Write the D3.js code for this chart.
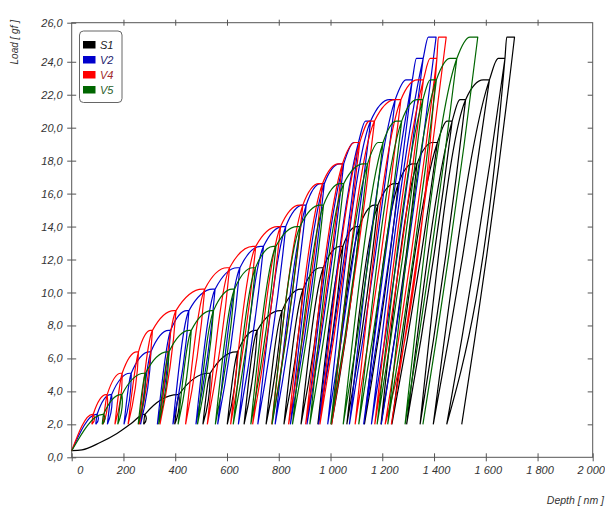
<!DOCTYPE html>
<html>
<head>
<meta charset="utf-8">
<script src="https://cdn.jsdelivr.net/npm/d3@7"></script>
<style>
  body { margin: 0; background: #fff; }
  svg text { font-family: "Liberation Sans", Arial, sans-serif; font-style: italic; }
</style>
</head>
<body>
<svg id="chart" width="605" height="507"></svg>
<script>
// load schedule [gf], same for every specimen; each cycle unloads to 2 gf
var peakLoads = [2.6, 3.8, 5.1, 6.4, 7.7, 8.9, 10.2, 11.5, 12.8, 14.0, 15.3, 16.6, 17.8, 19.1, 20.4, 21.7, 22.9, 24.2, 25.5];
var holdCreep = [3, 4, 5, 6, 7, 8, 9, 10, 11, 12, 13, 14, 16, 18, 20, 22, 24, 26, 30];
var unloadLoad = 2.0;

// depth [nm] where each peak is reached, and where each unload ends
var s1Peak = [280, 410, 530, 635, 710, 805, 885, 962, 1037, 1100, 1170, 1248, 1318, 1395, 1450, 1500, 1590, 1648, 1681];
var s1End  = [278, 398, 507, 601, 666, 751, 820, 886, 951, 1004, 1063, 1131, 1195, 1237, 1294, 1346, 1397, 1449, 1507];
var v2Peak = [95, 150, 225, 300, 375, 445, 545, 640, 730, 815, 893, 962, 1035, 1090, 1135, 1228, 1292, 1332, 1378];
var v2End  = [93, 138, 202, 266, 331, 391, 480, 564, 644, 719, 786, 845, 909, 954, 989, 1073, 1128, 1158, 1196];
var v4Peak = [80, 133, 190, 252, 305, 395, 505, 600, 700, 795, 880, 955, 1030, 1095, 1150, 1250, 1335, 1385, 1417];
var v4End  = [78, 121, 167, 218, 261, 341, 440, 524, 614, 699, 773, 838, 904, 959, 1004, 1095, 1171, 1211, 1235];
var v5Peak = [120, 190, 280, 370, 455, 540, 620, 700, 778, 870, 960, 1037, 1127, 1185, 1255, 1335, 1385, 1462, 1539];
var v5End  = [118, 178, 257, 336, 411, 486, 555, 624, 692, 774, 853, 920, 1001, 1049, 1109, 1180, 1221, 1288, 1357];

// first loading branch before the first peak
var s1InitDepth = [0, 40, 110, 175, 230];
var s1InitLoad  = [0.4, 0.45, 0.9, 1.45, 2.05];
var vInitDepth = [0];
var vInitLoad  = [0.4];

var seriesNames = ["S1", "V2", "V4", "V5"];
var seriesColors = ["#000000", "#0000cc", "#ff0000", "#006600"];
var labelColors = ["#222222", "#22226e", "#a02828", "#2a5e2a"];

var xTicks = [0, 200, 400, 600, 800, 1000, 1200, 1400, 1600, 1800, 2013];
var yTicks = [0, 2, 4, 6, 8, 10, 12, 14, 16, 18, 20, 22, 24, 26.37];

var series = [
  { name: seriesNames[0], color: seriesColors[0], peak: s1Peak, end: s1End, initD: s1InitDepth, initL: s1InitLoad },
  { name: seriesNames[1], color: seriesColors[1], peak: v2Peak, end: v2End, initD: vInitDepth, initL: vInitLoad },
  { name: seriesNames[2], color: seriesColors[2], peak: v4Peak, end: v4End, initD: vInitDepth, initL: vInitLoad },
  { name: seriesNames[3], color: seriesColors[3], peak: v5Peak, end: v5End, initD: vInitDepth, initL: vInitLoad }
];

var svg = d3.select("#chart");
var plotLeft = 71.7, plotRight = 592.7, plotTop = 22.7, plotBottom = 457.3;

var x = d3.scaleLinear().domain([0, 2013]).range([plotLeft, plotRight]);
var y = d3.scaleLinear().domain([0, 26.37]).range([plotBottom, plotTop]);

var axisColor = "#555";
var labelColor = "#333";

var fmtX = d3.formatLocale({ decimal: ",", thousands: " ", grouping: [3], currency: ["", ""] }).format(",d");

// frame
svg.append("rect")
  .attr("x", plotLeft).attr("y", plotTop)
  .attr("width", plotRight - plotLeft).attr("height", plotBottom - plotTop)
  .attr("fill", "none").attr("stroke", axisColor).attr("stroke-width", 1);

// bottom axis
var gx = svg.append("g").attr("transform", "translate(0," + plotBottom + ")")
  .call(d3.axisBottom(x).tickValues(xTicks).tickSizeOuter(0)
    .tickFormat(function(d) { return fmtX(Math.round(d / 100) * 100); }));
gx.select(".domain").remove();
gx.selectAll(".tick line").attr("y1", -4).attr("y2", 4).attr("stroke", axisColor);
gx.selectAll(".tick text").attr("y", 17).attr("dy", 0).attr("fill", labelColor).attr("font-size", 11)
  .attr("dx", function(d, i) { return i === 0 ? 8 : (i === xTicks.length - 1 ? -2 : 2); });

// top ticks
var gt = svg.append("g").attr("transform", "translate(0," + plotTop + ")")
  .call(d3.axisTop(x).tickValues(xTicks.slice(1, -1)).tickFormat(""));
gt.select(".domain").remove();
gt.selectAll(".tick line").attr("y1", -3).attr("y2", 3).attr("stroke", axisColor);

// left axis
var gy = svg.append("g").attr("transform", "translate(" + plotLeft + ",0)")
  .call(d3.axisLeft(y).tickValues(yTicks).tickSizeOuter(0)
    .tickFormat(function(d) { return d3.format(".1f")(Math.round(d)).replace(".", ","); }));
gy.select(".domain").remove();
gy.selectAll(".tick line").attr("x1", -4.5).attr("x2", 4.5).attr("stroke", axisColor);
gy.selectAll(".tick text").attr("x", -9).attr("fill", labelColor).attr("font-size", 11);

// right ticks
var gr = svg.append("g").attr("transform", "translate(" + plotRight + ",0)")
  .call(d3.axisRight(y).tickValues(yTicks.slice(1, -1)).tickFormat(""));
gr.select(".domain").remove();
gr.selectAll(".tick line").attr("x1", -5).attr("x2", 0).attr("stroke", axisColor);

// axis titles
svg.append("text")
  .attr("transform", "translate(18,20) rotate(-90)")
  .attr("text-anchor", "end")
  .attr("font-size", 10).attr("fill", labelColor)
  .text("Load [ gf ]");

svg.append("text")
  .attr("x", 604).attr("y", 504)
  .attr("text-anchor", "end")
  .attr("font-size", 10.5).attr("fill", labelColor)
  .text("Depth [ nm ]");

// load-unload cycles
var loadLine = d3.line()
  .x(function(p) { return x(p[0]); })
  .y(function(p) { return y(p[1]); })
  .curve(d3.curveMonotoneX);

function cyclePath(s) {
  var out = "";
  s.peak.forEach(function(pk, k) {
    var pts;
    if (k === 0) {
      pts = s.initD.map(function(d, i) { return [d, s.initL[i]]; });
    } else {
      pts = [[s.end[k - 1], unloadLoad], [s.peak[k - 1] + holdCreep[k - 1], peakLoads[k - 1]]];
    }
    var holdEnd = [pk + holdCreep[k], peakLoads[k]];
    pts.push([pk, peakLoads[k]], holdEnd);
    out += loadLine(pts);
    // unloading branch, slightly bowed
    var x0 = x(holdEnd[0]), y0 = y(holdEnd[1]);
    var x2 = x(s.end[k]), y2 = y(unloadLoad);
    out += "Q" + ((x0 + x2) / 2 + 4) + "," + ((y0 + y2) / 2) + " " + x2 + "," + y2;
  });
  return out;
}

svg.append("g").selectAll("path.cycle")
  .data(series)
  .enter()
  .append("path")
  .attr("class", "cycle")
  .attr("d", cyclePath)
  .attr("fill", "none")
  .attr("stroke", function(d) { return d.color; })
  .attr("stroke-width", 1.2)
  .attr("stroke-linejoin", "round");

// legend
var lg = svg.append("g");
lg.append("rect")
  .attr("x", 79.5).attr("y", 31).attr("width", 42.5).attr("height", 71.5)
  .attr("rx", 4).attr("fill", "#fff").attr("stroke", "#666").attr("stroke-width", 1);

var items = lg.selectAll("g.item")
  .data(series)
  .enter()
  .append("g")
  .attr("class", "item")
  .attr("transform", function(d, i) { return "translate(83," + (41 + i * 15) + ")"; });

items.append("rect")
  .attr("width", 12.5).attr("height", 7.5)
  .attr("fill", function(d) { return d.color; });

items.append("text")
  .attr("x", 17).attr("y", 8)
  .attr("font-size", 11)
  .attr("fill", function(d, i) { return labelColors[i]; })
  .text(function(d) { return d.name; });
</script>
</body>
</html>
